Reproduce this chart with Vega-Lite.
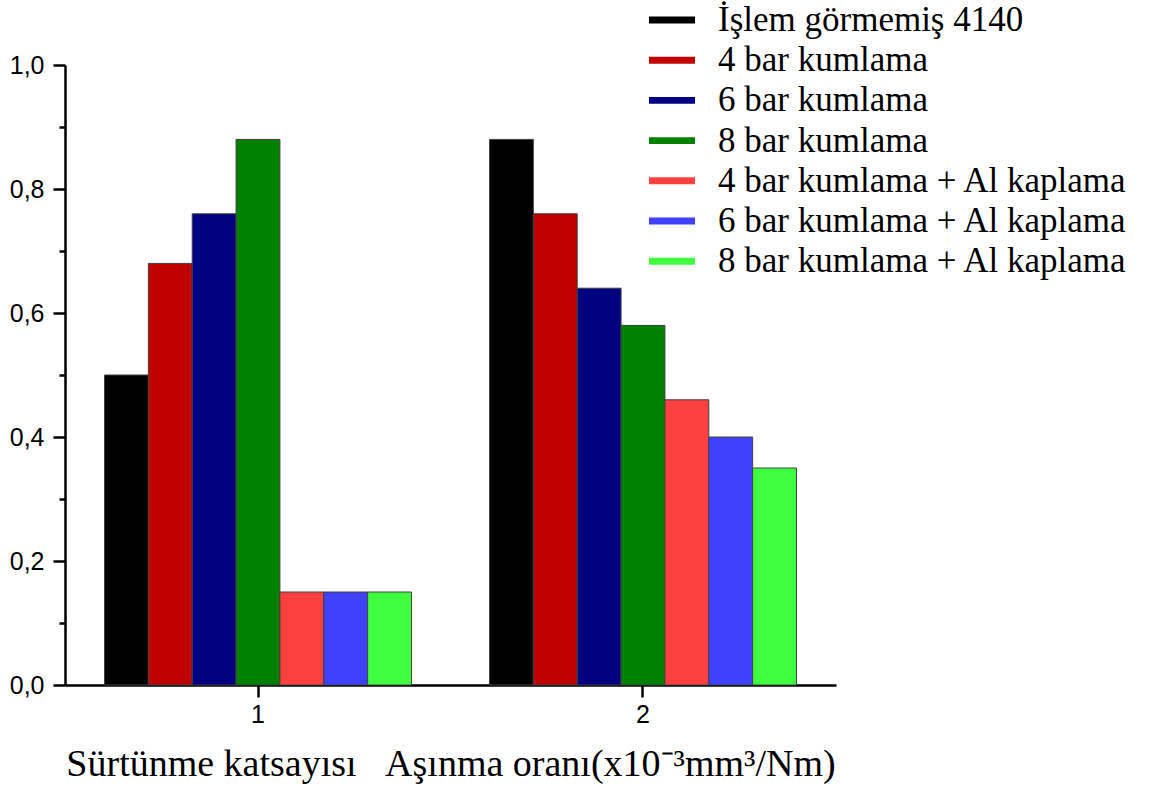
{
  "$schema": "https://vega.github.io/schema/vega-lite/v6.json",
  "width": 771,
  "height": 620,
  "autosize": "none",
  "padding": {"left": 65, "top": 65, "right": 316, "bottom": 110},
  "background": "white",
  "config": {
    "view": {"stroke": null},
    "locale": {"number": {"decimal": ",", "thousands": ".", "grouping": [3], "currency": ["", ""]}}
  },
  "data": {
    "values": [
      {"grup": "1", "seri": "İşlem görmemiş 4140", "deger": 0.50},
      {"grup": "1", "seri": "4 bar kumlama", "deger": 0.68},
      {"grup": "1", "seri": "6 bar kumlama", "deger": 0.76},
      {"grup": "1", "seri": "8 bar kumlama", "deger": 0.88},
      {"grup": "1", "seri": "4 bar kumlama + Al kaplama", "deger": 0.15},
      {"grup": "1", "seri": "6 bar kumlama + Al kaplama", "deger": 0.15},
      {"grup": "1", "seri": "8 bar kumlama + Al kaplama", "deger": 0.15},
      {"grup": "2", "seri": "İşlem görmemiş 4140", "deger": 0.88},
      {"grup": "2", "seri": "4 bar kumlama", "deger": 0.76},
      {"grup": "2", "seri": "6 bar kumlama", "deger": 0.64},
      {"grup": "2", "seri": "8 bar kumlama", "deger": 0.58},
      {"grup": "2", "seri": "4 bar kumlama + Al kaplama", "deger": 0.46},
      {"grup": "2", "seri": "6 bar kumlama + Al kaplama", "deger": 0.40},
      {"grup": "2", "seri": "8 bar kumlama + Al kaplama", "deger": 0.35}
    ]
  },
  "mark": {"type": "bar", "stroke": "#404040", "strokeWidth": 1},
  "encoding": {
    "x": {
      "field": "grup", "type": "ordinal",
      "scale": {"domain": ["1", "2"], "paddingInner": 0.2026, "paddingOuter": 0.1026},
      "axis": {
        "grid": false,
        "labelAngle": 0,
        "domainColor": "black", "domainWidth": 2.5,
        "tickColor": "black", "tickWidth": 2.5, "tickSize": 12,
        "labelFont": "Liberation Sans", "labelFontSize": 25, "labelColor": "black",
        "labelPadding": 5,
        "title": "Sürtünme katsayısı\u00a0\u00a0\u00a0Aşınma oranı(x10⁻³mm³/Nm)",
        "titleFont": "Liberation Serif", "titleFontSize": 38, "titleFontWeight": "normal",
        "titleColor": "black", "titlePadding": 18
      }
    },
    "xOffset": {
      "field": "seri", "type": "nominal",
      "sort": ["İşlem görmemiş 4140", "4 bar kumlama", "6 bar kumlama", "8 bar kumlama", "4 bar kumlama + Al kaplama", "6 bar kumlama + Al kaplama", "8 bar kumlama + Al kaplama"],
      "scale": {"paddingInner": 0, "paddingOuter": 0}
    },
    "y": {
      "field": "deger", "type": "quantitative",
      "stack": null,
      "scale": {"domain": [0, 1], "nice": false},
      "axis": {
        "values": [0, 0.1, 0.2, 0.3, 0.4, 0.5, 0.6, 0.7, 0.8, 0.9, 1.0],
        "grid": false,
        "domainColor": "black", "domainWidth": 2.5,
        "tickColor": "black", "tickWidth": 2.5,
        "tickSize": {"condition": {"test": "round(datum.value * 10) % 2 == 0", "value": 12}, "value": 6},
        "labelExpr": "round(datum.value * 10) % 2 == 0 ? format(datum.value, '.1f') : ''",
        "labelFont": "Liberation Sans", "labelFontSize": 25, "labelColor": "black",
        "labelPadding": 9,
        "title": null
      }
    },
    "color": {
      "field": "seri", "type": "nominal",
      "sort": ["İşlem görmemiş 4140", "4 bar kumlama", "6 bar kumlama", "8 bar kumlama", "4 bar kumlama + Al kaplama", "6 bar kumlama + Al kaplama", "8 bar kumlama + Al kaplama"],
      "scale": {
        "domain": ["İşlem görmemiş 4140", "4 bar kumlama", "6 bar kumlama", "8 bar kumlama", "4 bar kumlama + Al kaplama", "6 bar kumlama + Al kaplama", "8 bar kumlama + Al kaplama"],
        "range": ["#000000", "#C00000", "#000080", "#008000", "#FF4040", "#4040FF", "#40FF40"]
      },
      "legend": {
        "orient": "none", "legendX": 589.5, "legendY": -62.5,
        "title": null,
        "symbolType": "M-2,-0.3H2V0.3H-2Z",
        "symbolSize": 529,
        "symbolStrokeWidth": 0,
        "labelFont": "Liberation Serif", "labelFontSize": 35, "labelColor": "black",
        "labelOffset": 28.5,
        "labelLimit": 500,
        "rowPadding": 4.2,
        "padding": 0
      }
    }
  }
}
